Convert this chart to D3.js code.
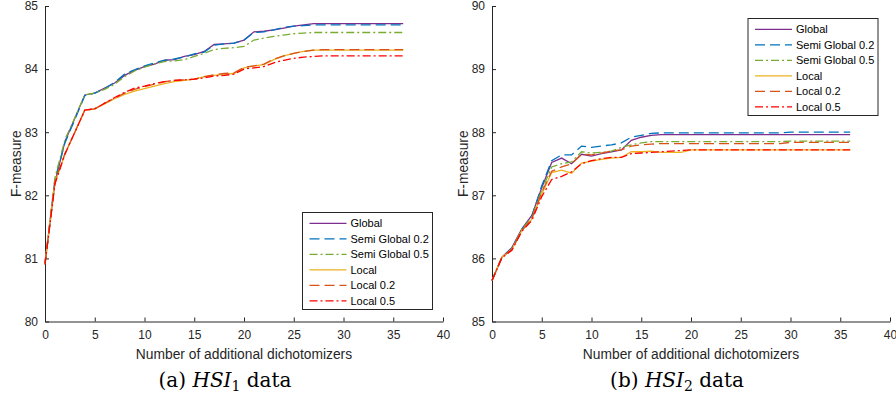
<!DOCTYPE html>
<html>
<head>
<meta charset="utf-8">
<script src="https://cdn.jsdelivr.net/npm/d3@7"></script>
<style>
  body { margin: 0; background: #fff; }
  .panel text { font-family: "Liberation Sans", Arial, sans-serif; fill: #262626; }
  .axis path, .axis line { stroke: #262626; }
  .legend text { fill: #000; }
  .caption { font-family: "DejaVu Serif", "Liberation Serif", serif; font-size: 20px; fill: #000; }
</style>
</head>
<body>
<svg id="chart" width="896" height="397"></svg>
<script>
// number of additional dichotomizers (x)
const steps = [0,1,2,3,4,5,6,7,8,9,10,11,12,13,14,15,16,17,18,19,20,21,22,23,24,25,26,27,28,29,30,31,32,33,34,35,36];

const seriesNames = ["Global", "Semi Global 0.2", "Semi Global 0.5", "Local", "Local 0.2", "Local 0.5"];
const seriesColors = ["#7e2f8e", "#0072bd", "#77ac30", "#edb120", "#d95319", "#ff0000"];
const seriesDash = [null, "10,5", "8,3,2,3", null, "10,5", "8,3,2,3"];

const xTicks = [0, 5, 10, 15, 20, 25, 30, 35, 40];
const yTicks1 = [80, 81, 82, 83, 84, 85];
const yTicks2 = [85, 86, 87, 88, 89, 90];

// (a) HSI1 data
const global1   = [80.92, 82.2, 82.85, 83.22, 83.59, 83.62, 83.7, 83.78, 83.9, 83.98, 84.04, 84.08, 84.14, 84.15, 84.2, 84.23, 84.28, 84.39, 84.4, 84.41, 84.46, 84.59, 84.6, 84.62, 84.65, 84.68, 84.7, 84.72, 84.72, 84.72, 84.72, 84.72, 84.72, 84.72, 84.72, 84.72, 84.72];
const semi02_1  = [80.92, 82.25, 82.83, 83.2, 83.58, 83.62, 83.69, 83.79, 83.92, 83.99, 84.05, 84.1, 84.14, 84.16, 84.19, 84.24, 84.27, 84.38, 84.4, 84.41, 84.46, 84.58, 84.59, 84.62, 84.66, 84.68, 84.69, 84.7, 84.7, 84.7, 84.7, 84.7, 84.7, 84.7, 84.7, 84.7, 84.7];
const semi05_1  = [80.92, 82.28, 82.88, 83.23, 83.59, 83.62, 83.68, 83.76, 83.88, 83.97, 84.03, 84.08, 84.12, 84.13, 84.15, 84.2, 84.25, 84.31, 84.33, 84.34, 84.36, 84.46, 84.49, 84.52, 84.54, 84.56, 84.57, 84.58, 84.58, 84.58, 84.58, 84.58, 84.58, 84.58, 84.58, 84.58, 84.58];
const local_1   = [80.92, 82.2, 82.65, 83.0, 83.35, 83.37, 83.45, 83.53, 83.6, 83.65, 83.69, 83.73, 83.77, 83.8, 83.82, 83.84, 83.88, 83.9, 83.92, 83.93, 84.02, 84.05, 84.07, 84.15, 84.21, 84.25, 84.28, 84.3, 84.3, 84.3, 84.3, 84.3, 84.3, 84.3, 84.3, 84.3, 84.3];
const local02_1 = [80.92, 82.22, 82.66, 83.0, 83.35, 83.37, 83.46, 83.54, 83.62, 83.68, 83.72, 83.76, 83.8, 83.82, 83.83, 83.84, 83.88, 83.91, 83.93, 83.94, 84.03, 84.05, 84.08, 84.16, 84.21, 84.25, 84.28, 84.3, 84.31, 84.31, 84.31, 84.31, 84.31, 84.31, 84.31, 84.31, 84.31];
const local05_1 = [80.9, 82.18, 82.65, 83.0, 83.35, 83.37, 83.46, 83.55, 83.63, 83.7, 83.73, 83.77, 83.8, 83.82, 83.83, 83.84, 83.86, 83.89, 83.9, 83.92, 84.0, 84.02, 84.04, 84.1, 84.14, 84.17, 84.19, 84.2, 84.21, 84.21, 84.21, 84.21, 84.21, 84.21, 84.21, 84.21, 84.21];

// (b) HSI2 data
const global2   = [85.65, 86.02, 86.17, 86.47, 86.68, 87.12, 87.52, 87.59, 87.5, 87.65, 87.62, 87.66, 87.69, 87.72, 87.87, 87.92, 87.95, 87.96, 87.96, 87.96, 87.96, 87.96, 87.96, 87.96, 87.96, 87.96, 87.96, 87.96, 87.96, 87.96, 87.96, 87.96, 87.96, 87.96, 87.96, 87.96, 87.96];
const semi02_2  = [85.65, 86.02, 86.16, 86.46, 86.66, 87.15, 87.55, 87.64, 87.64, 87.78, 87.76, 87.78, 87.8, 87.83, 87.92, 87.95, 87.98, 87.99, 87.99, 87.99, 87.99, 87.99, 87.99, 87.99, 87.99, 87.99, 87.99, 87.99, 87.99, 87.99, 88.0, 88.0, 88.0, 88.0, 88.0, 88.0, 88.0];
const semi05_2  = [85.65, 86.02, 86.15, 86.46, 86.65, 87.08, 87.45, 87.5, 87.53, 87.69, 87.67, 87.68, 87.7, 87.76, 87.8, 87.83, 87.85, 87.85, 87.85, 87.85, 87.85, 87.85, 87.85, 87.85, 87.85, 87.85, 87.85, 87.85, 87.85, 87.85, 87.86, 87.86, 87.86, 87.86, 87.86, 87.86, 87.86];
const local_2   = [85.65, 86.02, 86.14, 86.44, 86.62, 87.02, 87.36, 87.4, 87.35, 87.51, 87.54, 87.57, 87.59, 87.6, 87.69, 87.69, 87.7, 87.68, 87.68, 87.68, 87.72, 87.72, 87.72, 87.72, 87.72, 87.72, 87.72, 87.72, 87.72, 87.72, 87.72, 87.72, 87.72, 87.72, 87.72, 87.72, 87.72];
const local02_2 = [85.65, 86.02, 86.14, 86.44, 86.63, 87.05, 87.38, 87.45, 87.5, 87.65, 87.64, 87.67, 87.7, 87.72, 87.78, 87.8, 87.81, 87.82, 87.82, 87.82, 87.82, 87.82, 87.82, 87.82, 87.82, 87.82, 87.82, 87.82, 87.82, 87.82, 87.84, 87.84, 87.84, 87.84, 87.84, 87.84, 87.84];
const local05_2 = [85.65, 86.01, 86.13, 86.43, 86.6, 86.98, 87.25, 87.3, 87.37, 87.5, 87.55, 87.58, 87.6, 87.6, 87.66, 87.67, 87.68, 87.69, 87.7, 87.71, 87.72, 87.72, 87.72, 87.72, 87.72, 87.72, 87.72, 87.72, 87.72, 87.72, 87.72, 87.72, 87.72, 87.72, 87.72, 87.72, 87.72];

const svg = d3.select("#chart");

function drawPanel(opts) {
  let g = svg.append("g").attr("class", "panel");

  let x = d3.scaleLinear().domain([0, 40]).range([opts.left, opts.right]);
  let y = d3.scaleLinear().domain(opts.yDomain).range([opts.bottom, opts.top]);

  // axes, ticks pointing inward like matlab
  g.append("g")
    .attr("class", "axis")
    .attr("transform", "translate(0," + opts.bottom + ")")
    .call(d3.axisBottom(x).tickValues(xTicks).tickFormat(d3.format("d"))
      .tickSizeInner(-4).tickSizeOuter(0).tickPadding(9));
  g.append("g")
    .attr("class", "axis")
    .attr("transform", "translate(" + opts.left + ",0)")
    .call(d3.axisLeft(y).tickValues(opts.yTicks).tickFormat(d3.format("d"))
      .tickSizeInner(-4).tickSizeOuter(0).tickPadding(7));
  g.selectAll(".axis").attr("font-size", 12).attr("font-family", null);
  g.selectAll(".axis path, .axis line").attr("stroke-width", 1);

  // lines
  let line = d3.line()
    .x((d, i) => x(steps[i]))
    .y(d => y(d));

  opts.series.forEach((vals, k) => {
    g.append("path")
      .datum(vals)
      .attr("fill", "none")
      .attr("stroke", seriesColors[k])
      .attr("stroke-width", 1.3)
      .attr("stroke-dasharray", seriesDash[k])
      .attr("d", line);
  });

  // axis labels
  g.append("text")
    .attr("x", (opts.left + opts.right) / 2)
    .attr("y", opts.bottom + 37)
    .attr("text-anchor", "middle")
    .attr("font-size", 13.8)
    .text("Number of additional dichotomizers");

  g.append("text")
    .attr("transform", "translate(" + (opts.left - 24) + "," + ((opts.top + opts.bottom) / 2) + ") rotate(-90)")
    .attr("text-anchor", "middle")
    .attr("font-size", 13.8)
    .text("F-measure");

  // legend
  let lg = g.append("g").attr("class", "legend")
    .attr("transform", "translate(" + opts.legend[0] + "," + opts.legend[1] + ")");
  lg.append("rect")
    .attr("width", 130)
    .attr("height", 97)
    .attr("fill", "#fff")
    .attr("stroke", "#262626")
    .attr("stroke-width", 1);
  let item = lg.selectAll("g.item")
    .data(seriesNames)
    .enter().append("g")
      .attr("class", "item")
      .attr("transform", (d, i) => "translate(0," + (10.8 + i * 15.5) + ")");
  item.append("line")
    .attr("x1", 7).attr("x2", 44)
    .attr("stroke", (d, i) => seriesColors[i])
    .attr("stroke-width", 1.3)
    .attr("stroke-dasharray", (d, i) => seriesDash[i]);
  item.append("text")
    .attr("x", 48)
    .attr("dy", "0.35em")
    .attr("font-size", 11)
    .text(d => d);

  // caption
  let cap = svg.append("text")
    .attr("class", "caption")
    .attr("x", opts.captionX)
    .attr("y", 387)
    .attr("text-anchor", "middle");
  cap.append("tspan").text(opts.captionTag + " ");
  cap.append("tspan").attr("font-style", "italic").text("HSI");
  cap.append("tspan").attr("font-size", 14).attr("dy", 4).text(opts.captionSub);
  cap.append("tspan").attr("dy", -4).text(" data");
}

drawPanel({
  left: 45, right: 443, top: 6, bottom: 321.5,
  yDomain: [80, 85], yTicks: yTicks1,
  series: [global1, semi02_1, semi05_1, local_1, local02_1, local05_1],
  legend: [302.5, 212.5],
  captionX: 225, captionTag: "(a)", captionSub: "1"
});

drawPanel({
  left: 492, right: 890, top: 6, bottom: 321.5,
  yDomain: [85, 90], yTicks: yTicks2,
  series: [global2, semi02_2, semi05_2, local_2, local02_2, local05_2],
  legend: [748, 18.5],
  captionX: 677, captionTag: "(b)", captionSub: "2"
});
</script>
</body>
</html>
